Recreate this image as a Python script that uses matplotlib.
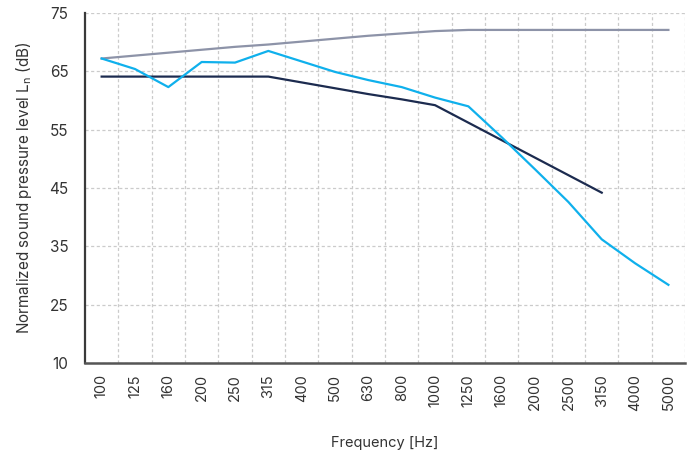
import numpy as np
import matplotlib
matplotlib.use("Agg")
import matplotlib.pyplot as plt
from matplotlib.ticker import FixedLocator

plt.rcParams["font.family"] = ["Inter", "DejaVu Sans"]

frequencies = ["100", "125", "160", "200", "250", "315", "400", "500", "630",
               "800", "1000", "1250", "1600", "2000", "2500", "3150", "4000", "5000"]

# reference curve (grey)
reference = [67.2, 67.7, 68.2, 68.7, 69.2, 69.6, 70.1, 70.6, 71.1,
             71.5, 71.9, 72.1, 72.1, 72.1, 72.1, 72.1, 72.1, 72.1]
# measured (light blue)
measured = [67.2, 65.4, 62.3, 66.6, 66.5, 68.5, 66.7, 64.9, 63.5,
            62.3, 60.5, 59.0, 53.7, 48.2, 42.6, 36.2, 32.1, 28.4]
# rated curve (navy)
rated = [64.1, 64.1, 64.1, 64.1, 64.1, 64.1, 63.1, 62.1, 61.1,
         60.2, 59.2, 56.2, 53.2, 50.2, 47.2, 44.2, np.nan, np.nan]

ytick_vals = [15, 25, 35, 45, 55, 65, 75]
ytick_labels = ["10", "25", "35", "45", "55", "65", "75"]

fig = plt.figure(figsize=(6.92, 4.55), dpi=100)
ax = fig.add_axes([0.1228, 0.2022, 0.8672, 0.7692])

x = np.arange(len(frequencies))
ax.plot(x, reference, color="#8d93a8", lw=1.6, zorder=3)
ax.plot(x, rated, color="#1c2b4f", lw=1.6, zorder=4)
ax.plot(x, measured, color="#0fb0ec", lw=1.6, zorder=5)

ax.set_xlim(-0.5, len(frequencies) - 0.5)
ax.set_ylim(15, 75)
ax.set_xticks(x)
ax.set_xticklabels(frequencies, rotation=90, fontsize=10.5, color="#333333")
ax.xaxis.set_minor_locator(FixedLocator(np.arange(0.5, len(frequencies), 1)))
ax.set_yticks(ytick_vals)
ax.set_yticklabels(ytick_labels, fontsize=11, color="#333333")
ax.tick_params(axis="x", which="both", length=0, pad=8)
ax.tick_params(axis="y", which="both", length=0, pad=12)

ax.grid(False)
ax.xaxis.grid(True, which="minor", color="#cbcbcb", ls=(0, (2.5, 2)), lw=0.9)
ax.yaxis.grid(True, which="major", color="#cbcbcb", ls=(0, (2.5, 2)), lw=0.9)
ax.set_axisbelow(True)

for s in ["top", "right"]:
    ax.spines[s].set_visible(False)
ax.spines["left"].set_color("#3a3a3a")
ax.spines["left"].set_linewidth(1.6)
ax.spines["bottom"].set_color("#555555")
ax.spines["bottom"].set_linewidth(1.8)

ax.set_xlabel("Frequency [Hz]", fontsize=10.5, color="#333333", labelpad=18)
ax.set_ylabel("Normalized sound pressure level L$_\\mathregular{n}$ (dB)",
              fontsize=11, color="#333333", labelpad=11)

fig.savefig("out.png", dpi=100)
